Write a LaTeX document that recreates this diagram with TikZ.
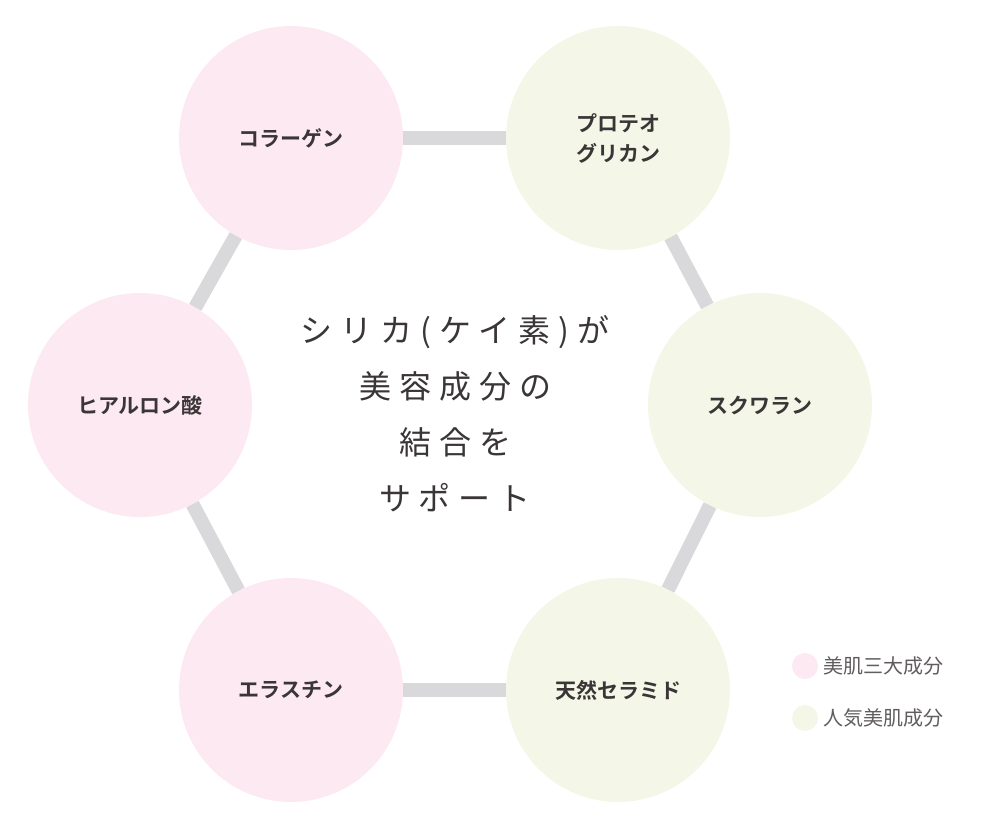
\documentclass[tikz,border=0pt]{standalone}
\usepackage{fontspec}
\newfontfamily\jp{Noto Sans CJK JP}
\newfontfamily\jpb{Noto Sans CJK JP Bold}
\newfontfamily\jpsp[LetterSpace=25]{Noto Sans CJK JP}
\definecolor{pinkc}{HTML}{FCE9F1}
\definecolor{greenc}{HTML}{F4F7E7}
\definecolor{linec}{HTML}{D9D8DA}
\definecolor{txt}{HTML}{3A3536}
\begin{document}
\begin{tikzpicture}[x=1pt,y=-1pt,
  ball/.style={circle,minimum size=224pt,inner sep=0pt,text=txt,font=\jpb\fontsize{21}{30}\selectfont,align=center},
  pk/.style={ball,fill=pinkc},
  gr/.style={ball,fill=greenc},
  conn/.style={draw=linec,line width=14pt},
  dot/.style={circle,minimum size=26pt,inner sep=0pt},
  leg/.style={anchor=west,text=txt!80,font=\jp\fontsize{20}{22}\selectfont}]
\useasboundingbox (0,0) rectangle (1004,828);
\node[pk] (a) at (291,138) {コラーゲン};
\node[gr] (b) at (618,138) {プロテオ\\グリカン};
\node[gr] (c) at (760,405) {スクワラン};
\node[gr] (d) at (618,690) {天然セラミド};
\node[pk] (e) at (291,690) {エラスチン};
\node[pk] (f) at (140,405) {ヒアルロン酸};
\draw[conn] (a) -- (b);
\draw[conn] (b) -- (c);
\draw[conn] (c) -- (d);
\draw[conn] (d) -- (e);
\draw[conn] (e) -- (f);
\draw[conn] (f) -- (a);
\node[text=txt,font=\jpsp\fontsize{32}{56}\selectfont,align=center] (m) at (455,414) {シリカ(ケイ素)が\\美容成分の\\結合を\\サポート};
\node[dot,fill=pinkc] (p1) at (805,666) {};
\node[leg] (l1) at (820,666) {美肌三大成分};
\node[dot,fill=greenc] (p2) at (805,718) {};
\node[leg] (l2) at (820,718) {人気美肌成分};
\end{tikzpicture}
\end{document}
